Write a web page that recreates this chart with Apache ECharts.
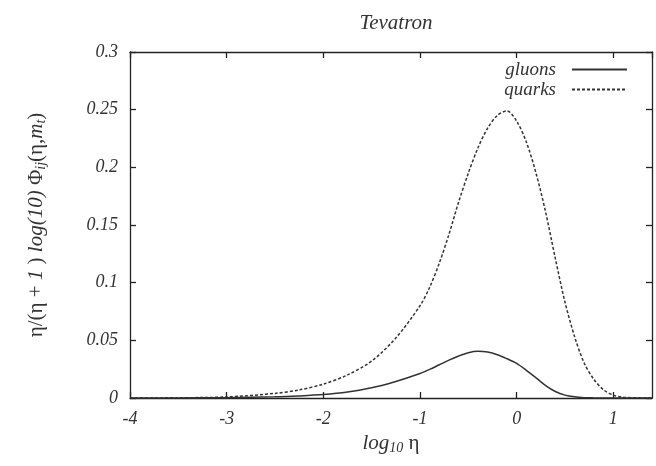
<!DOCTYPE html>
<html>
<head>
<meta charset="utf-8">
<script src="https://cdn.jsdelivr.net/npm/echarts@6/dist/echarts.min.js"></script>
<style>
html,body{margin:0;padding:0;background:#fff;}
#chart{width:656px;height:466px;}
</style>
</head>
<body>
<div id="chart"></div>
<script>
const titleText = 'Tevatron';
const xTicks = [-4, -3, -2, -1, 0, 1];
const logEta = [-4, -3.5, -3, -2.5, -2.25, -2, -1.75, -1.5, -1.25, -1, -0.9, -0.8, -0.7, -0.6, -0.5, -0.4, -0.3, -0.2, -0.1, 0, 0.1, 0.2, 0.3, 0.4, 0.5, 0.6, 0.7, 0.8, 0.9, 1.0, 1.1, 1.2, 1.4];
const gluons = [0, 0.0001, 0.0003, 0.001, 0.0018, 0.003, 0.0052, 0.0088, 0.0143, 0.0212, 0.0248, 0.0288, 0.0328, 0.0364, 0.0393, 0.0405, 0.0398, 0.0375, 0.034, 0.030, 0.024, 0.0175, 0.0108, 0.0056, 0.0025, 0.001, 0.0003, 0.0001, 0, 0, 0, 0, 0];
const quarks = [0, 0.0002, 0.0009, 0.004, 0.007, 0.012, 0.02, 0.032, 0.052, 0.08, 0.096, 0.117, 0.142, 0.17, 0.195, 0.217, 0.234, 0.245, 0.249, 0.240, 0.222, 0.195, 0.161, 0.121, 0.083, 0.053, 0.03, 0.016, 0.007, 0.0025, 0.0007, 0.0002, 0];

const serif = '"Liberation Serif", "DejaVu Serif", serif';
const ink = '#333';
const pairs = (ys) => logEta.map((x, i) => [x, ys[i]]);

const chart = echarts.init(document.getElementById('chart'));
const axisCommon = {
  axisLine: { show: true, onZero: false, lineStyle: { color: '#222', width: 1.3 } },
  axisTick: { show: true, inside: true, length: 6, lineStyle: { color: '#222', width: 1.3 } },
  splitLine: { show: false }
};
const nameRich = {
  i: { fontFamily: serif, fontStyle: 'italic', fontSize: 21, color: ink },
  s: { fontFamily: serif, fontStyle: 'italic', fontSize: 14, color: ink, verticalAlign: 'bottom', padding: [9, 0, 0, 0] },
  n: { fontFamily: serif, fontSize: 21, color: ink }
};
chart.setOption({
  animation: false,
  backgroundColor: '#fff',
  title: {
    text: titleText, left: 391, top: 8, textAlign: 'center',
    textStyle: { fontFamily: serif, fontStyle: 'italic', fontWeight: 'normal', fontSize: 21, color: ink }
  },
  legend: {
    orient: 'vertical', right: 23, top: 55, align: 'right',
    itemWidth: 55, itemHeight: 12, itemGap: 1,
    itemStyle: { opacity: 0 },
    textStyle: { fontFamily: serif, fontStyle: 'italic', fontSize: 19, color: ink, padding: [0, 11, 0, 0] },
    data: ['gluons', 'quarks']
  },
  grid: { left: 130, right: 4, top: 52, bottom: 68 },
  xAxis: [
    Object.assign({}, axisCommon, {
      type: 'value', min: -4, max: 1.4, interval: 1, position: 'bottom',
      name: '{i|log}{s|10}{n| η}', nameLocation: 'middle', nameGap: 31,
      nameTextStyle: { rich: nameRich },
      axisLabel: {
        margin: 12, showMaxLabel: false, fontFamily: serif, fontStyle: 'italic', fontSize: 18, color: ink
      }
    }),
    Object.assign({}, axisCommon, {
      type: 'value', min: -4, max: 1.4, interval: 1, position: 'top',
      axisLabel: { show: false }
    })
  ],
  yAxis: [
    Object.assign({}, axisCommon, {
      type: 'value', min: 0, max: 0.3, interval: 0.05, position: 'left',
      name: '{n|η/(η + }{i|1}{n| ) }{i|log(10)}{n| Φ}{s|ij}{n|(η,}{i|m}{s|t}{n|)}',
      nameLocation: 'middle', nameGap: 82, nameRotate: 90,
      nameTextStyle: { rich: nameRich },
      axisLabel: { margin: 12, fontFamily: serif, fontStyle: 'italic', fontSize: 18, color: ink }
    }),
    Object.assign({}, axisCommon, {
      type: 'value', min: 0, max: 0.3, interval: 0.05, position: 'right',
      axisLabel: { show: false }
    })
  ],
  series: [
    {
      name: 'gluons', type: 'line', data: pairs(gluons), smooth: 0.3,
      symbol: 'none', lineStyle: { color: '#333', width: 1.5, type: 'solid' },
      itemStyle: { color: '#333' }
    },
    {
      name: 'quarks', type: 'line', data: pairs(quarks), smooth: 0.3,
      symbol: 'none', lineStyle: { color: '#333', width: 1.5, type: [3, 2] },
      itemStyle: { color: '#333' }
    }
  ]
});
</script>
</body>
</html>
